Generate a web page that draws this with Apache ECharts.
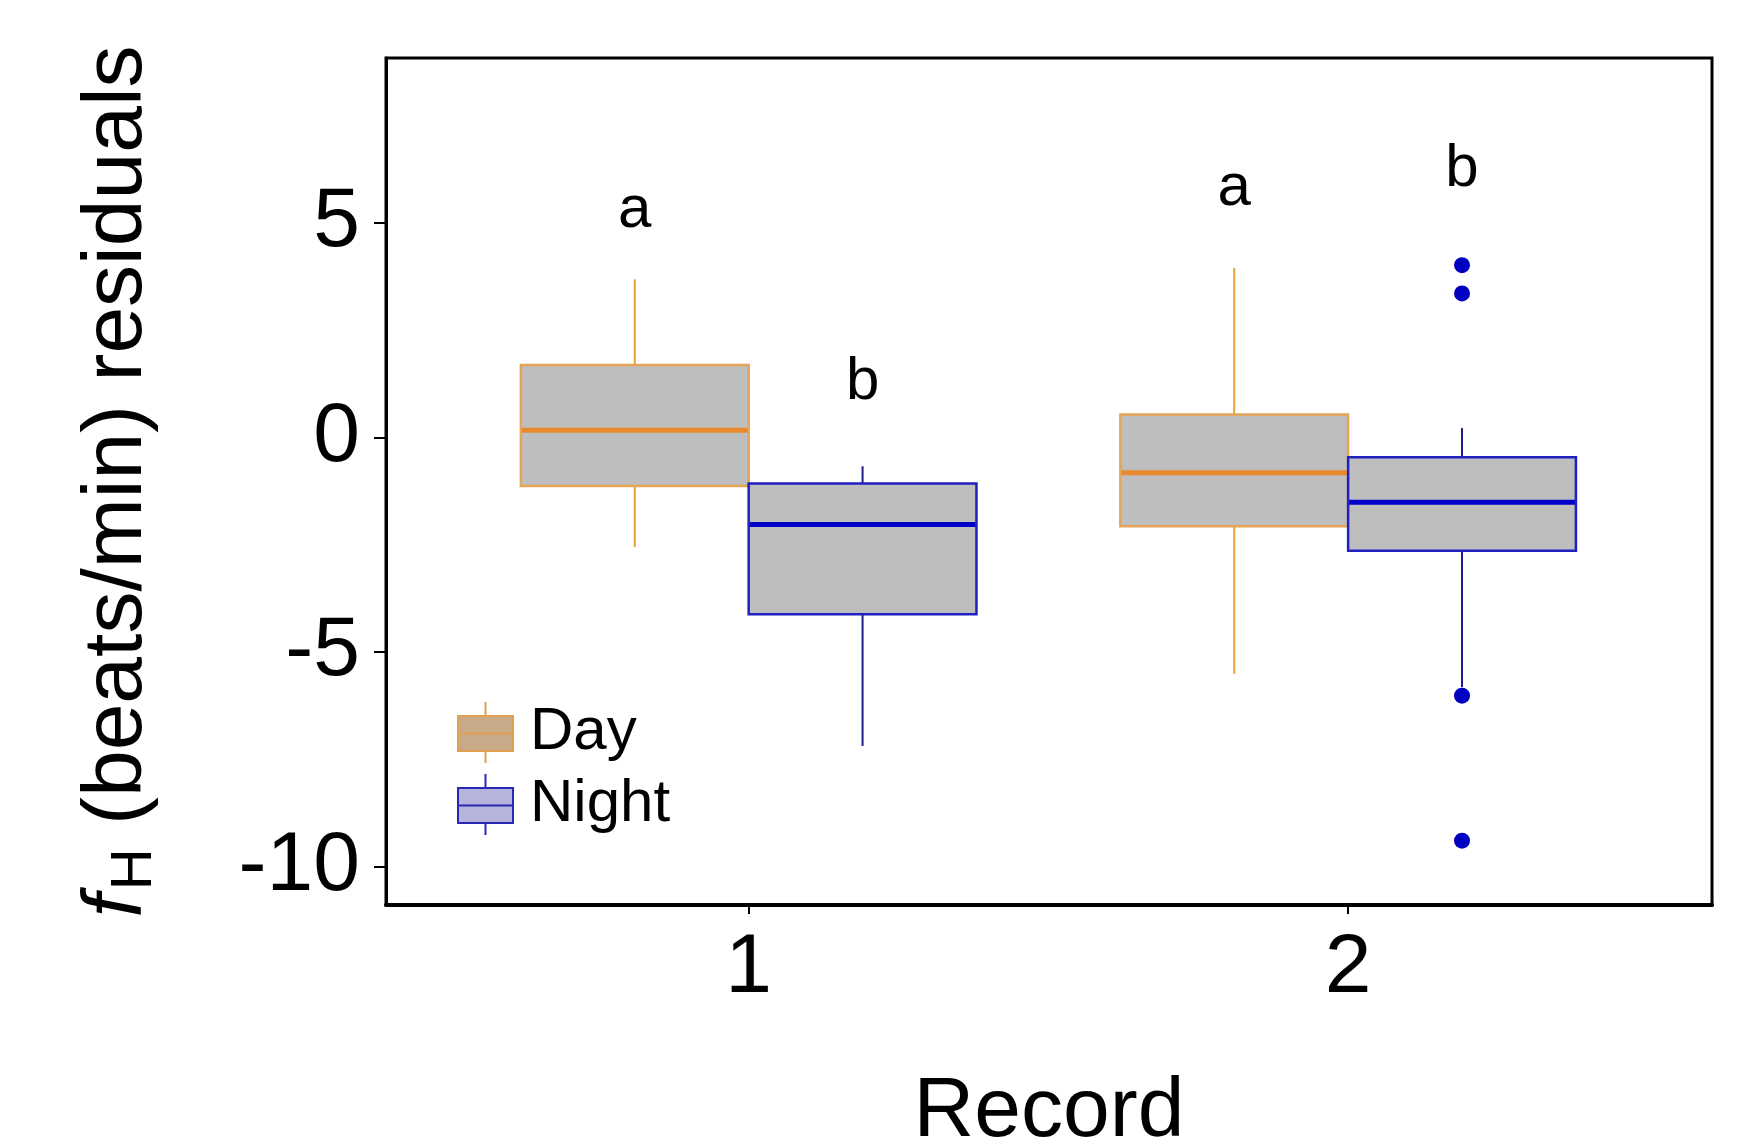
<!DOCTYPE html>
<html>
<head>
<meta charset="utf-8">
<script src="https://cdn.jsdelivr.net/npm/echarts@6/dist/echarts.min.js"></script>
<style>
html, body { margin: 0; padding: 0; background: #fff; }
#chart { width: 1737px; height: 1139px; }
</style>
</head>
<body>
<div id="chart"></div>
<script>
var records = [1, 2];
// [lower whisker, Q1, median, Q3, upper whisker]
var dayStats = [[-2.55, -1.13, 0.17, 1.69, 3.69], [-5.51, -2.07, -0.82, 0.54, 3.95]];
var nightStats = [[-7.19, -4.12, -2.03, -1.07, -0.67], [-5.82, -2.64, -1.51, -0.46, 0.22]];
var outlierRecord = [2, 2, 2, 2];
var outlierValues = [4.02, 3.36, -6.02, -9.40];
var dayLetters = ['a', 'a'];
var dayLetterY = [5.3, 5.8];
var nightLetters = ['b', 'b'];
var nightLetterY = [1.28, 6.25];
var yTicks = [-10, -5, 0, 5];
var xTicks = [1, 2];

var font = 'Liberation Sans, Arial, sans-serif';
var shift = 0.19;
var halfBox = 0.19;

var dom = document.getElementById('chart');
var myChart = echarts.init(dom, null, { renderer: 'canvas' });

function boxData(stats) {
    return records.map(function (r, i) { return [r].concat(stats[i]); });
}

function letterData(letters, ys, offset) {
    return records.map(function (r, i) {
        return { name: letters[i], value: [r + offset, ys[i]] };
    });
}

function makeBox(offset, border, median, whisker) {
    return function (params, api) {
        var x = api.value(0) + offset;
        var pLow = api.coord([x, api.value(1)]);
        var pQ1 = api.coord([x, api.value(2)]);
        var pMed = api.coord([x, api.value(3)]);
        var pQ3 = api.coord([x, api.value(4)]);
        var pHigh = api.coord([x, api.value(5)]);
        var left = api.coord([x - halfBox, 0])[0];
        var right = api.coord([x + halfBox, 0])[0];
        return {
            type: 'group',
            children: [
                { type: 'line', shape: { x1: pLow[0], y1: pLow[1], x2: pQ1[0], y2: pQ1[1] }, style: { stroke: whisker, lineWidth: 2 } },
                { type: 'line', shape: { x1: pQ3[0], y1: pQ3[1], x2: pHigh[0], y2: pHigh[1] }, style: { stroke: whisker, lineWidth: 2 } },
                { type: 'rect', shape: { x: left, y: pQ3[1], width: right - left, height: pQ1[1] - pQ3[1] }, style: { fill: '#bebebe', stroke: border, lineWidth: 2.5 } },
                { type: 'line', shape: { x1: left + 1, y1: pMed[1], x2: right - 1, y2: pMed[1] }, style: { stroke: median, lineWidth: 5 } }
            ]
        };
    };
}

var boxIcon = 'path://M0,14H55V49H0Z M0,31.5H55 M27.5,0V14 M27.5,49V61';

var letterLabel = { show: true, formatter: '{b}', position: 'inside', fontSize: 60, color: '#000', opacity: 1, fontFamily: font, textBorderWidth: 0 };

var option = {
    animation: false,
    backgroundColor: '#fff',
    textStyle: { fontFamily: font },
    grid: {
        left: 386, right: 25, top: 58, bottom: 234,
        outerBoundsMode: 'none',
        containLabel: false,
        show: true, borderColor: '#000', borderWidth: 3, backgroundColor: 'transparent'
    },
    legend: {
        orient: 'vertical',
        left: 452, top: 696,
        itemWidth: 55, itemHeight: 62, itemGap: 9,
        selectedMode: false,
        textStyle: { fontSize: 60, color: '#000', fontFamily: font, padding: [6, 0, 0, 12] },
        data: [
            { name: 'Day', icon: boxIcon, itemStyle: { color: '#c8aa88', borderColor: '#e0a050', borderWidth: 2 } },
            { name: 'Night', icon: boxIcon, itemStyle: { color: '#b4b4dc', borderColor: '#2828b4', borderWidth: 2 } }
        ]
    },
    xAxis: {
        type: 'value',
        min: 0.395, max: 2.607,
        name: 'Record',
        nameLocation: 'middle',
        nameGap: 166,
        nameTextStyle: { fontSize: 84, color: '#000', fontFamily: font },
        axisLine: { show: true, onZero: false, lineStyle: { color: '#000', width: 4 } },
        axisTick: { show: true, length: 9, customValues: xTicks, lineStyle: { color: '#000', width: 2 } },
        axisLabel: { customValues: xTicks, fontSize: 84, color: '#000', margin: 22, fontFamily: font },
        splitLine: { show: false }
    },
    yAxis: {
        type: 'value',
        min: -10.9, max: 8.85,
        name: '{f|f}{h|H} (beats/min) residuals',
        nameLocation: 'middle',
        nameRotate: 90,
        nameGap: 222,
        nameTextStyle: {
            fontSize: 84, color: '#000', fontFamily: font,
            rich: {
                f: { fontSize: 84, fontStyle: 'italic', fontFamily: font, color: '#000', padding: [0, 4, 0, 0] },
                h: { fontSize: 58, fontFamily: font, color: '#000', padding: [34, 0, 0, 0] }
            }
        },
        axisLine: { show: true, onZero: false, lineStyle: { color: '#000', width: 3 } },
        axisTick: { show: true, length: 12, customValues: yTicks, lineStyle: { color: '#000', width: 2 } },
        axisLabel: { customValues: yTicks, fontSize: 84, color: '#000', margin: 26, fontFamily: font },
        splitLine: { show: false }
    },
    series: [
        {
            name: 'Day',
            type: 'custom',
            renderItem: makeBox(-shift, '#e6a456', '#e8892c', '#e6a23a'),
            encode: { x: 0, y: [1, 2, 3, 4, 5] },
            itemStyle: { color: '#c8aa88', borderColor: '#e0a050' },
            data: boxData(dayStats)
        },
        {
            name: 'Night',
            type: 'custom',
            renderItem: makeBox(shift, '#2020c0', '#0000c8', '#1c1c88'),
            encode: { x: 0, y: [1, 2, 3, 4, 5] },
            itemStyle: { color: '#b4b4dc', borderColor: '#2828b4' },
            data: boxData(nightStats)
        },
        {
            name: 'Night outliers',
            type: 'scatter',
            symbol: 'circle',
            symbolSize: 16,
            itemStyle: { color: '#0000c0', opacity: 1 },
            data: outlierRecord.map(function (r, i) { return [r + shift, outlierValues[i]]; })
        },
        {
            name: 'Day letters',
            type: 'scatter',
            symbolSize: 0,
            itemStyle: { opacity: 1 },
            label: letterLabel,
            data: letterData(dayLetters, dayLetterY, -shift)
        },
        {
            name: 'Night letters',
            type: 'scatter',
            symbolSize: 0,
            itemStyle: { opacity: 1 },
            label: letterLabel,
            data: letterData(nightLetters, nightLetterY, shift)
        }
    ]
};

if (option && typeof option === 'object') {
    myChart.setOption(option);
}

window.addEventListener('resize', myChart.resize);
</script>
</body>
</html>
